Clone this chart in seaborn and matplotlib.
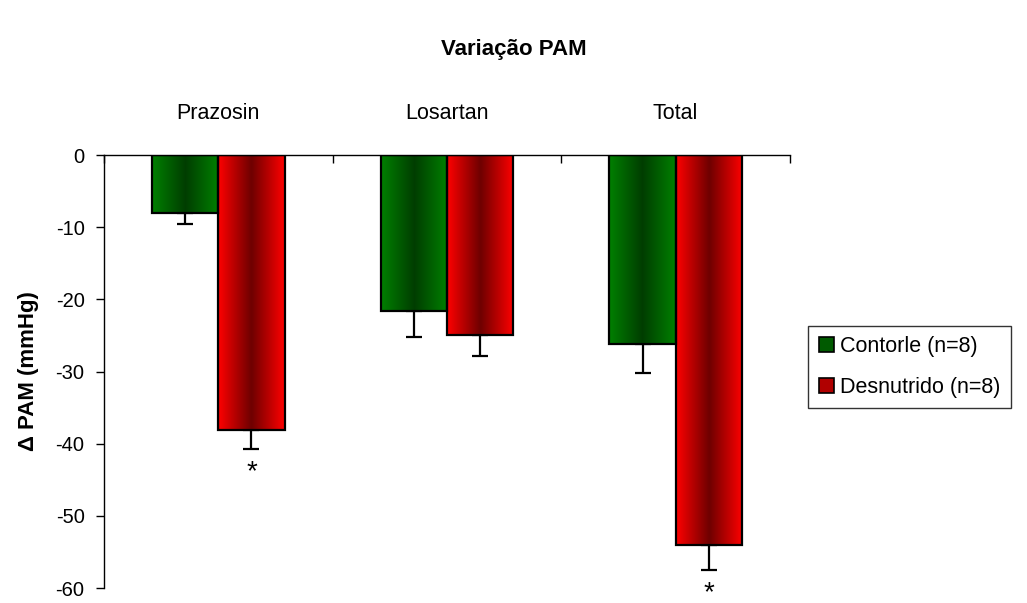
import numpy as np
import pandas as pd
import seaborn as sns
import matplotlib.pyplot as plt
from matplotlib.colors import LinearSegmentedColormap
from matplotlib.patches import Patch

# values
treatments = ['Prazosin', 'Losartan', 'Total']
groups = ['Contorle (n=8)', 'Desnutrido (n=8)']
controle = [-8.0, -21.6, -26.2]
desnutrido = [-38.1, -24.9, -54.0]
controle_err = [1.6, 3.6, 4.0]
desnutrido_err = [2.7, 3.0, 3.5]
signif = [(0, 1), (2, 1)]  # (treatment, group) marked with *

edge_cols = ['#008000', '#ff0000']
dark_cols = ['#003d00', '#6e0000']

sns.set_style('white')
plt.rcParams['font.family'] = ['Liberation Sans', 'DejaVu Sans']
plt.rcParams['axes.unicode_minus'] = False
plt.rcParams['text.color'] = 'black'
plt.rcParams['axes.labelcolor'] = 'black'
plt.rcParams['xtick.color'] = 'black'
plt.rcParams['ytick.color'] = 'black'

df = pd.DataFrame({
    'treat': treatments * 2,
    'group': [groups[0]] * 3 + [groups[1]] * 3,
    'value': controle + desnutrido,
})

fig = plt.figure(figsize=(10.27, 6.03), dpi=100)
ax = fig.add_axes([104 / 1027, 1 - 588 / 603, 686 / 1027, 433 / 603])

sns.barplot(data=df, x='treat', y='value', hue='group', order=treatments,
            hue_order=groups, palette=edge_cols, saturation=1, width=0.58,
            errorbar=None, edgecolor='black', linewidth=1.6, legend=False, ax=ax)

# gradient fill clipped to each bar
grad = np.linspace(0, 1, 256)[None, :]
bars = list(ax.patches)
for i, p in enumerate(bars):
    g = i // 3
    cmap = LinearSegmentedColormap.from_list('g', [edge_cols[g], dark_cols[g], edge_cols[g]])
    x, w = p.get_x(), p.get_width()
    y, h = p.get_y(), p.get_height()
    im = ax.imshow(grad, cmap=cmap, aspect='auto', extent=[x, x + w, y + h, y],
                   zorder=1.5, interpolation='bicubic')
    im.set_clip_path(p)
    p.set_facecolor('none')
    p.set_zorder(2)

# downward error bars only
errs = controle_err + desnutrido_err
vals = controle + desnutrido
for i, p in enumerate(bars):
    xc = p.get_x() + p.get_width() / 2
    ax.errorbar(xc, vals[i], yerr=[[errs[i]], [0]], fmt='none', ecolor='black',
                elinewidth=1.6, capsize=6, capthick=1.6, zorder=1)

for t, g in signif:
    i = g * 3 + t
    p = bars[i]
    xc = p.get_x() + p.get_width() / 2
    ax.text(xc, vals[i] - errs[i] - 3.2, '*', ha='center', va='center',
            fontsize=20, clip_on=False)

ax.set_xlim(-0.5, 2.5)
ax.set_ylim(-60, 0)
ax.set_yticks(range(-60, 1, 10))
ax.tick_params(axis='y', direction='out', length=6, width=1, left=True,
               labelsize=14.5, pad=8)

ax.xaxis.tick_top()
ax.set_xticks(range(3))
ax.set_xticklabels(treatments)
ax.set_xticks([-0.5, 0.5, 1.5, 2.5], minor=True)
ax.tick_params(axis='x', which='major', length=0, labelsize=15.5, pad=22)
ax.tick_params(axis='x', which='minor', direction='in', length=6, width=1,
               top=True)
ax.set_xlabel('')
ax.set_ylabel('Δ PAM (mmHg)', fontsize=16, fontweight='bold', labelpad=12)

for s in ['right', 'bottom']:
    ax.spines[s].set_visible(False)
for s in ['left', 'top']:
    ax.spines[s].set_color('black')
    ax.spines[s].set_linewidth(1)

handles = [Patch(facecolor=c, edgecolor='black', linewidth=1.2) for c in ['#005a00', '#b00000']]
leg = fig.legend(handles, groups, loc='center left', bbox_to_anchor=(808 / 1027, 1 - 367 / 603),
                 frameon=True, fancybox=False, edgecolor='black', fontsize=15.5,
                 handlelength=0.7, handleheight=0.7, handletextpad=0.3,
                 labelspacing=0.9, borderpad=0.5, borderaxespad=0)
leg.get_frame().set_linewidth(1)

fig.text(0.5, 1 - 50 / 603, 'Variação PAM', ha='center', va='center',
         fontsize=16, fontweight='bold')

fig.savefig('out.png', dpi=100)
